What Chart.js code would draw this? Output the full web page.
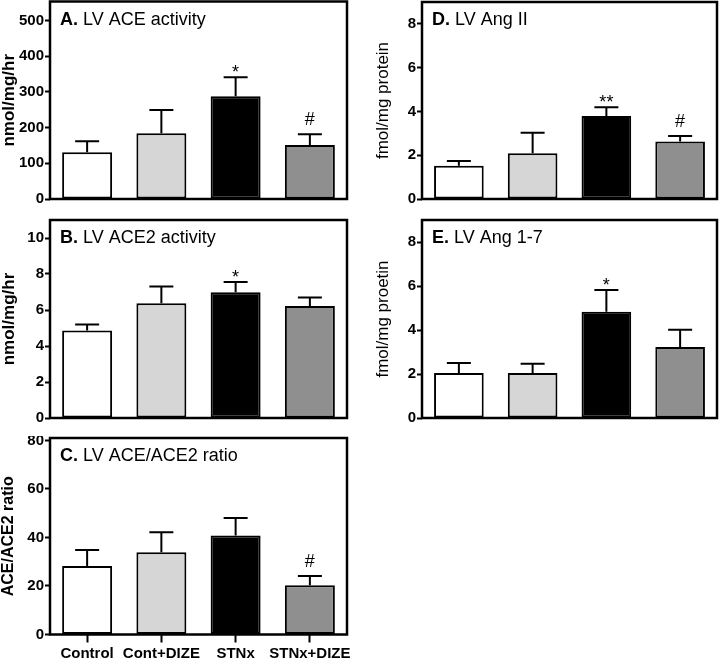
<!DOCTYPE html>
<html>
<head>
<meta charset="utf-8">
<script src="https://cdn.jsdelivr.net/npm/chart.js@4"></script>
<style>
  body { margin: 0; background: #fff; }
  #wrap { position: relative; width: 721px; height: 658px; }
  canvas { position: absolute; }
</style>
</head>
<body>
<div id="wrap">
  <canvas id="chartA" width="352" height="205" style="left:0;top:0;width:352px;height:205px"></canvas>
  <canvas id="chartB" width="352" height="205" style="left:0;top:218px;width:352px;height:205px"></canvas>
  <canvas id="chartC" width="352" height="222" style="left:0;top:436px;width:352px;height:222px"></canvas>
  <canvas id="chartD" width="352" height="205" style="left:369px;top:0;width:352px;height:205px"></canvas>
  <canvas id="chartE" width="352" height="205" style="left:369px;top:218px;width:352px;height:205px"></canvas>
</div>
<script>
const groups = ['Control', 'Cont+DIZE', 'STNx', 'STNx+DIZE'];
const barColors = ['#ffffff', '#d6d6d6', '#000000', '#8f8f8f'];

const aceMean = [131, 184, 288, 151];
const aceSem = [31, 65, 53, 30];
const aceMarks = ['', '', '*', '#'];
const aceTicks = [0, 100, 200, 300, 400, 500];

const ace2Mean = [4.86, 6.38, 6.98, 6.22];
const ace2Sem = [0.34, 0.92, 0.58, 0.48];
const ace2Marks = ['', '', '*', ''];
const ace2Ticks = [0, 2, 4, 6, 8, 10];

const ratioMean = [28.2, 33.9, 40.8, 20.3];
const ratioSem = [6.6, 8.2, 7.2, 3.8];
const ratioMarks = ['', '', '', '#'];
const ratioTicks = [0, 20, 40, 60, 80];

const angIIMean = [1.52, 2.09, 3.79, 2.63];
const angIISem = [0.22, 0.94, 0.40, 0.25];
const angIIMarks = ['', '', '**', '#'];

const ang17Mean = [2.05, 2.05, 4.83, 3.23];
const ang17Sem = [0.45, 0.42, 0.99, 0.78];
const ang17Marks = ['', '', '*', ''];
const angTicks = [0, 2, 4, 6, 8];

const FONT = '"Liberation Sans", Arial, Helvetica, sans-serif';

// error bars, significance marks, panel title and box frame
const panelPlugin = {
    id: 'panel',
    afterDatasetsDraw(chart, args, opts) {
        const ctx = chart.ctx;
        const area = chart.chartArea;
        const y = chart.scales.y;
        const bars = chart.getDatasetMeta(0).data;
        ctx.save();
        ctx.strokeStyle = '#000';
        ctx.lineWidth = 2;
        bars.forEach((bar, i) => {
            const top = y.getPixelForValue(opts.means[i] + opts.sems[i]);
            ctx.beginPath();
            ctx.moveTo(bar.x, bar.y);
            ctx.lineTo(bar.x, top);
            ctx.moveTo(bar.x - 12, top);
            ctx.lineTo(bar.x + 12, top);
            ctx.stroke();
            const mark = opts.marks[i];
            if (mark) {
                ctx.fillStyle = '#000';
                ctx.font = '18px ' + FONT;
                ctx.textAlign = 'center';
                ctx.textBaseline = 'alphabetic';
                ctx.fillText(mark, bar.x, mark.includes('*') ? top + 1 : top - 9);
            }
        });
        // title
        ctx.fillStyle = '#000';
        ctx.textAlign = 'left';
        ctx.textBaseline = 'alphabetic';
        ctx.font = 'bold 18px ' + FONT;
        const tx = area.left + 10, ty = area.top + 23;
        ctx.fillText(opts.letter, tx, ty);
        const w = ctx.measureText(opts.letter + ' ').width;
        ctx.font = '18px ' + FONT;
        ctx.fillText(opts.title, tx + w, ty);
        // frame
        ctx.lineWidth = 2.5;
        ctx.strokeRect(area.left, area.top, area.right - area.left, area.bottom - area.top);
        ctx.restore();
    }
};

function makeChart(id, cfg) {
    const ctx = document.getElementById(id).getContext('2d');
    return new Chart(ctx, {
        type: 'bar',
        data: {
            labels: groups,
            datasets: [{
                data: cfg.means,
                backgroundColor: barColors,
                borderColor: '#000',
                borderWidth: 2,
                borderSkipped: false,
                barPercentage: 0.673,
                categoryPercentage: 1
            }]
        },
        options: {
            responsive: false,
            maintainAspectRatio: false,
            animation: false,
            devicePixelRatio: 1,
            layout: { padding: cfg.padding },
            plugins: {
                legend: { display: false },
                tooltip: { enabled: false },
                panel: {
                    means: cfg.means, sems: cfg.sems, marks: cfg.marks,
                    letter: cfg.letter, title: cfg.title
                }
            },
            scales: {
                x: {
                    display: cfg.showX,
                    grid: {
                        offset: false,
                        drawOnChartArea: false,
                        drawTicks: true,
                        tickLength: 8,
                        tickWidth: 2,
                        color: '#000'
                    },
                    border: { display: false },
                    ticks: {
                        color: '#000',
                        padding: 2,
                        maxRotation: 0,
                        autoSkip: false,
                        font: { family: FONT, size: 15, weight: 'bold' }
                    },
                    afterFit(scale) {
                        if (!cfg.showX) return;
                        scale.height = 23.5;
                        scale.paddingLeft = 0;
                        scale.paddingRight = 0;
                    }
                },
                y: {
                    min: 0,
                    max: cfg.max,
                    grid: {
                        drawOnChartArea: false,
                        drawTicks: true,
                        tickLength: 5,
                        tickWidth: 2,
                        color: '#000'
                    },
                    border: { display: false },
                    ticks: {
                        color: '#000',
                        padding: 1,
                        font: { family: FONT, size: 15, weight: 'bold' }
                    },
                    afterBuildTicks(scale) {
                        scale.ticks = cfg.ticks.map(v => ({ value: v }));
                    },
                    afterFit(scale) {
                        scale.width = cfg.yWidth;
                        scale.paddingTop = 0;
                        scale.paddingBottom = 0;
                    },
                    title: {
                        display: true,
                        text: cfg.yTitle,
                        color: '#000',
                        padding: { top: cfg.yTitlePad, bottom: 0 },
                        font: { family: FONT, size: cfg.yTitleSize, weight: cfg.yBold ? 'bold' : 'normal' }
                    }
                }
            }
        },
        plugins: [panelPlugin]
    });
}

makeChart('chartA', {
    means: aceMean, sems: aceSem, marks: aceMarks, ticks: aceTicks, max: 553,
    letter: 'A.', title: 'LV ACE activity', yTitle: 'nmol/mg/hr', yBold: true, yTitleSize: 17, yTitlePad: -1,
    showX: false, yWidth: 50, padding: { top: 1.5, right: 5, bottom: 6, left: 0 }
});
makeChart('chartB', {
    means: ace2Mean, sems: ace2Sem, marks: ace2Marks, ticks: ace2Ticks, max: 11,
    letter: 'B.', title: 'LV ACE2 activity', yTitle: 'nmol/mg/hr', yBold: true, yTitleSize: 17, yTitlePad: -1,
    showX: false, yWidth: 50, padding: { top: 2, right: 5, bottom: 5, left: 0 }
});
makeChart('chartC', {
    means: ratioMean, sems: ratioSem, marks: ratioMarks, ticks: ratioTicks, max: 81,
    letter: 'C.', title: 'LV ACE/ACE2 ratio', yTitle: 'ACE/ACE2 ratio', yBold: true, yTitleSize: 16, yTitlePad: -1,
    showX: true, yWidth: 50, padding: { top: 2, right: 5, bottom: 0, left: 0 }
});
makeChart('chartD', {
    means: angIIMean, sems: angIISem, marks: angIIMarks, ticks: angTicks, max: 9,
    letter: 'D.', title: 'LV Ang II', yTitle: 'fmol/mg protein', yBold: false, yTitleSize: 17, yTitlePad: 4,
    showX: false, yWidth: 53, padding: { top: 2, right: 4, bottom: 6, left: 0 }
});
makeChart('chartE', {
    means: ang17Mean, sems: ang17Sem, marks: ang17Marks, ticks: angTicks, max: 9,
    letter: 'E.', title: 'LV Ang 1-7', yTitle: 'fmol/mg proetin', yBold: false, yTitleSize: 17, yTitlePad: 4,
    showX: false, yWidth: 53, padding: { top: 2, right: 4, bottom: 5, left: 0 }
});
</script>
</body>
</html>
